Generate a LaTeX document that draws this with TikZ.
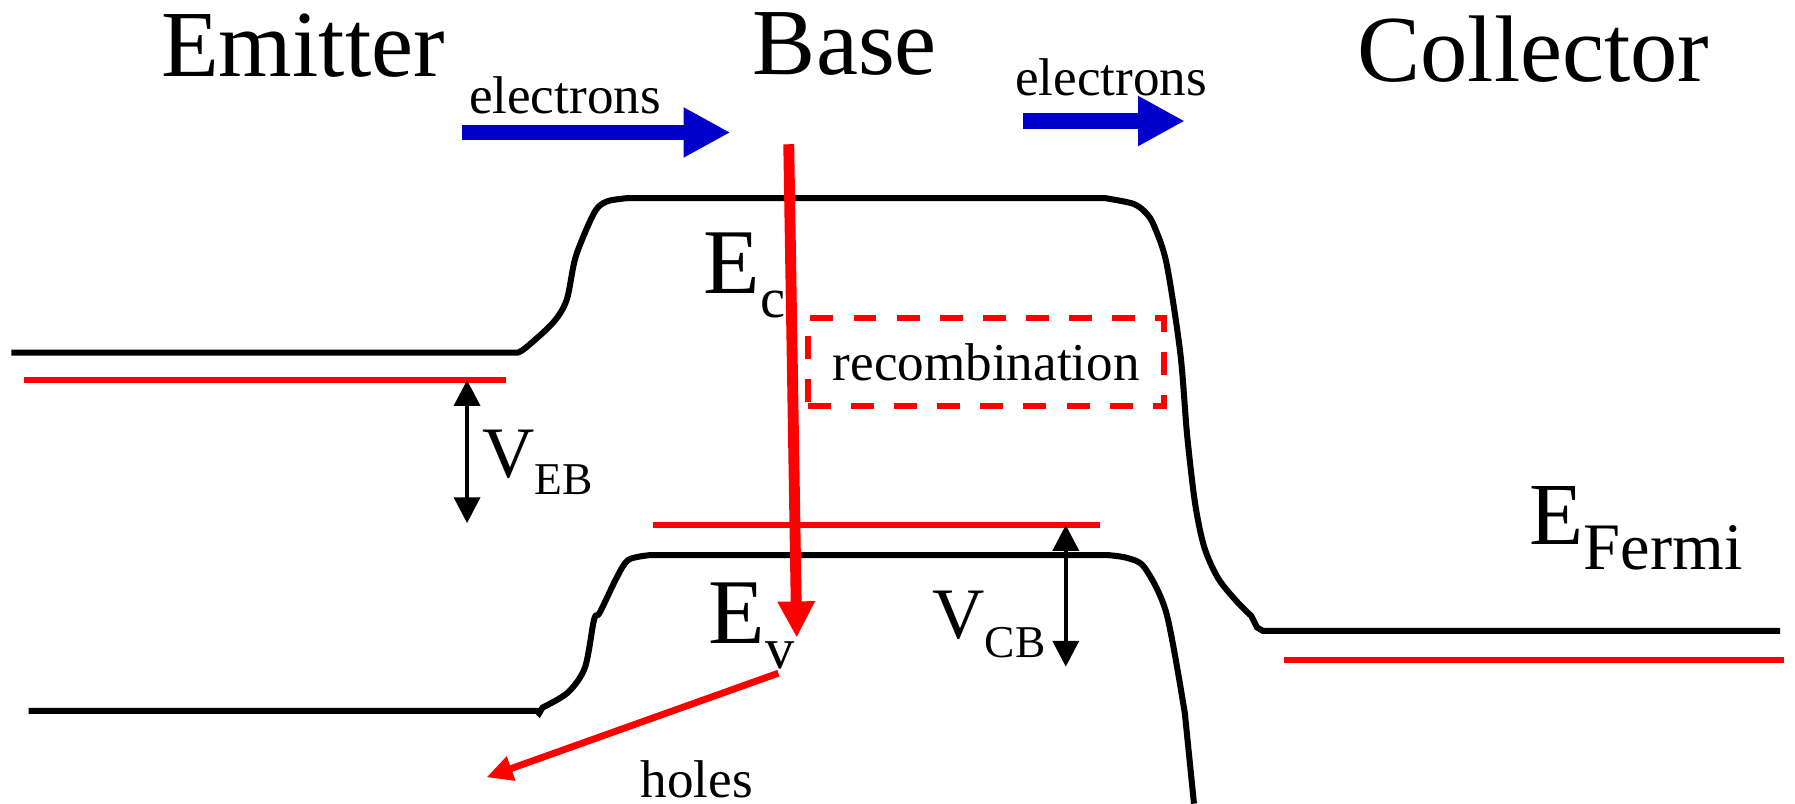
\documentclass[tikz,border=0pt]{standalone}
\usepackage{fontspec}
\setmainfont{Liberation Serif}
\usetikzlibrary{arrows.meta}
\definecolor{eblue}{HTML}{0000CC}

\begin{document}
\begin{tikzpicture}[x=0.01cm,y=-0.01cm,
  band/.style={line width=1.5pt},
  qfl/.style={red,line width=1.5pt},
  flow/.style={eblue,line width=3.8pt,-{Triangle[length=11.6pt,width=11.6pt]}},
  vdim/.style={line width=1pt,{Triangle[length=6.4pt,width=6.4pt]}-{Triangle[length=6.4pt,width=6.4pt]}},
  regionlbl/.style={anchor=base west,inner sep=0pt,font=\fontsize{23.5}{28}\selectfont},
  textlbl/.style={anchor=base west,inner sep=0pt,font=\fontsize{13.2}{16}\selectfont},
  symlbl/.style={anchor=base west,inner sep=0pt,font=\fontsize{23}{28}\selectfont},
  vlbl/.style={anchor=base west,inner sep=0pt,font=\fontsize{18}{22}\selectfont}]
  \useasboundingbox (0,0) rectangle (1568,702);

  % region names
  \node[regionlbl] (emitter) at (140,67) {Emitter};
  \node[regionlbl] (base) at (657,65) {Base};
  \node[regionlbl] (collector) at (1185,71) {Collector};

  % conduction band
  \draw[band] (10,308) -- (452,308) -- plot[smooth,tension=0.5] coordinates {(452,308) (459,304) (483,282) (495,262) (503,224) (519,186) (530,176) (549,173)}
    -- (965,173) -- plot[smooth,tension=0.5] coordinates {(965,173) (990,178) (1001,186) (1008,197) (1019,230) (1031,308) (1037,380) (1044,440) (1052,478) (1064,505) (1080,525) (1093,538)}
    -- (1098,548) -- (1103,551) -- (1555,551);

  % valence band
  \draw[band] (25,621) -- (469,621) -- (471,623) -- plot[smooth,tension=0.5] coordinates {(474,618) (496,605) (511,583) (519,541) (524,535) (539,504) (549,489) (567,485)}
    -- (969,485) -- plot[smooth,tension=0.5] coordinates {(969,485) (985,487.5) (1000,496) (1019,536) (1035,623)}
    -- (1043,702);

  % quasi Fermi levels
  \draw[qfl] (21,332) -- (442,332);
  \draw[qfl] (570,458.6) -- (961,458.6);
  \draw[qfl] (1122,576.8) -- (1558,576.8);

  % electron flow
  \coordinate (fl1) at (404,115.7);
  \coordinate (fl1e) at (638,115.7);
  \coordinate (fl2) at (894,105.7);
  \coordinate (fl2e) at (1035,105.7);
  \draw[flow] (fl1) -- (fl1e);
  \draw[flow] (fl2) -- (fl2e);
  \node[textlbl] (eleft) at (409,99) {electrons};
  \node[textlbl] (eright) at (886,83) {electrons};

  % recombination
  \node[draw=red,line width=1.5pt,dash pattern=on 5.7pt off 5pt,minimum width=3.11cm,minimum height=0.77cm,inner sep=0pt,
    font=\fontsize{13.2}{16}\selectfont] (recomb) at (861.5,316.5) {recombination};
  \coordinate (inj) at (689,126);
  \coordinate (rec) at (696,557);
  \draw[red,line width=2.7pt,-{Triangle[length=9pt,width=8.7pt]}] (inj) -- (rec);
  \coordinate (hs) at (680,588);
  \coordinate (he) at (425,679);
  \draw[red,line width=1.7pt,-{Triangle[length=6.5pt,width=6pt]}] (hs) -- (he);
  \node[textlbl] (holes) at (559,697) {holes};

  % band labels
  \node[symlbl] (ec) at (614,256) {E\raisebox{-6pt}{\fontsize{14}{16}\selectfont c}};
  \node[symlbl] (ev) at (618.5,562) {E\raisebox{-6.2pt}{\fontsize{14.5}{16}\selectfont v}};
  \node[symlbl,font=\fontsize{22}{26}\selectfont] (efermi) at (1335.6,476) {E\raisebox{-6.2pt}{\fontsize{16.5}{19}\selectfont Fermi}};

  % applied voltages
  \coordinate (vebt) at (408,332);
  \coordinate (vebb) at (408,457);
  \draw[vdim] (vebt) -- (vebb);
  \node[vlbl] (veb) at (420.8,417.5) {V\raisebox{-4.2pt}{\fontsize{11.3}{13}\selectfont EB}};
  \coordinate (vcbt) at (931,458.6);
  \coordinate (vcbb) at (931,582.4);
  \draw[vdim] (vcbt) -- (vcbb);
  \node[vlbl] (vcb) at (813.9,557.6) {V\raisebox{-4.7pt}{\fontsize{11.3}{13}\selectfont CB}};
\end{tikzpicture}
\end{document}
